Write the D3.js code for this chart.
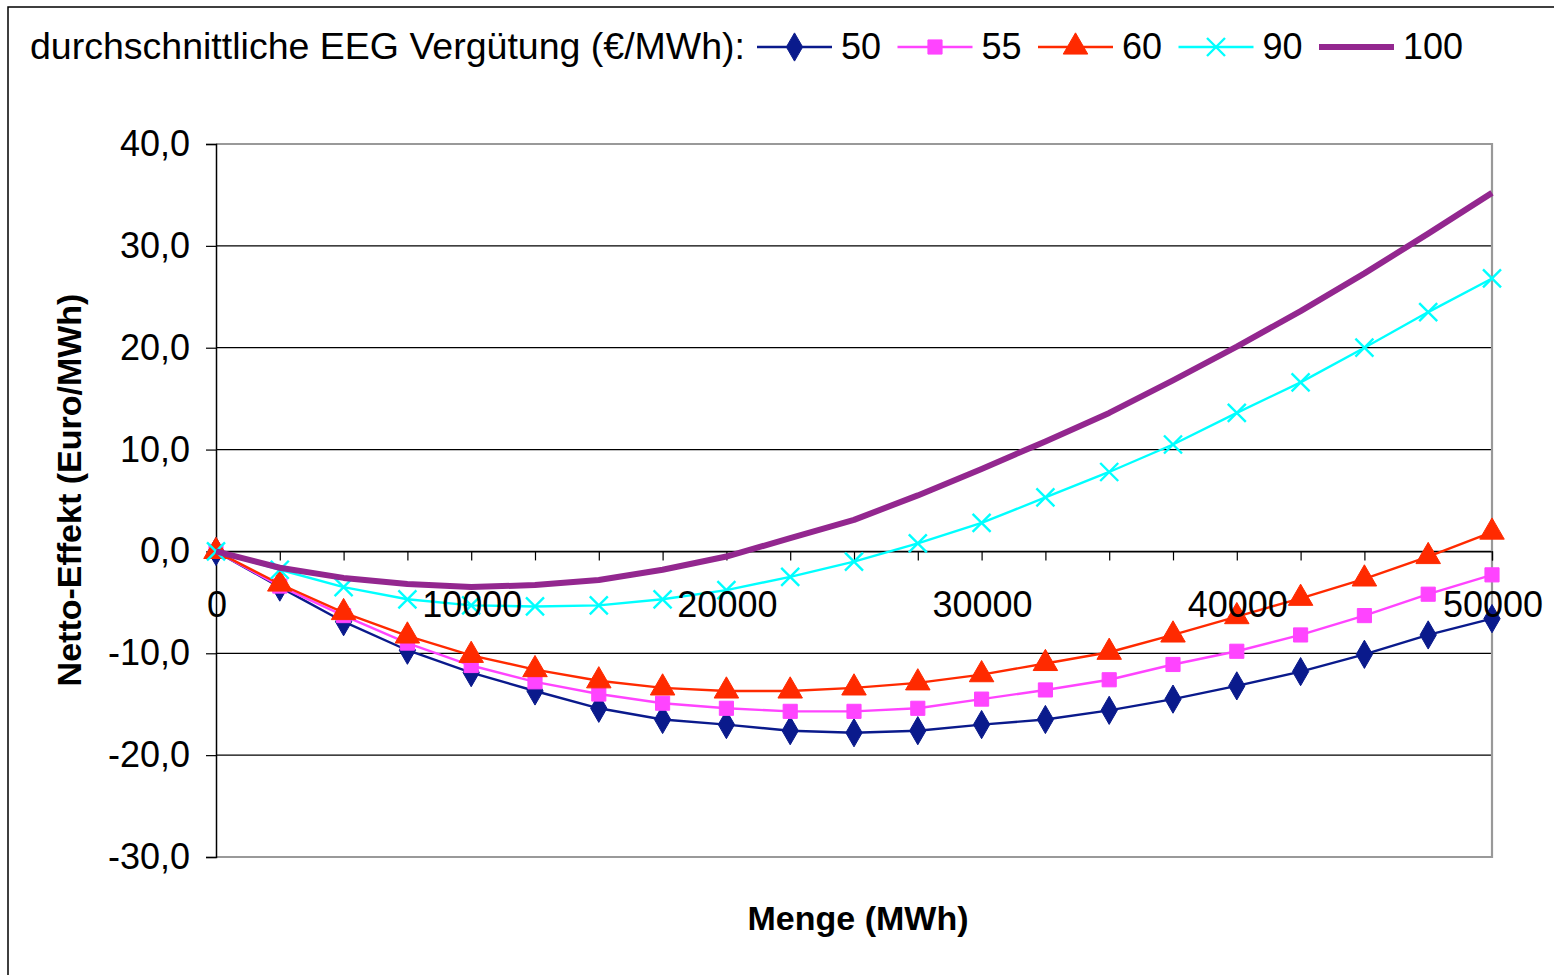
<!DOCTYPE html>
<html><head><meta charset="utf-8">
<script src="https://cdn.jsdelivr.net/npm/d3@7"></script>
<style>
html,body{margin:0;padding:0;background:#fff;}
text{font-family:"Liberation Sans",Arial,sans-serif;}
</style></head>
<body><svg id="c" width="1554" height="975"></svg>
<script>
const mengen = [0,2500,5000,7500,10000,12500,15000,17500,20000,22500,25000,27500,30000,32500,35000,37500,40000,42500,45000,47500,50000];
const s50  = [0,-3.5,-6.9,-9.7,-11.9,-13.7,-15.4,-16.5,-17.0,-17.6,-17.8,-17.6,-17.0,-16.5,-15.6,-14.5,-13.2,-11.8,-10.1,-8.2,-6.6];
const s55  = [0,-3.4,-6.3,-9.0,-11.2,-12.8,-14.0,-14.9,-15.4,-15.7,-15.7,-15.4,-14.5,-13.6,-12.6,-11.1,-9.8,-8.2,-6.3,-4.2,-2.3];
const s60  = [0,-3.2,-6.0,-8.3,-10.2,-11.6,-12.7,-13.4,-13.7,-13.7,-13.4,-12.9,-12.1,-11.0,-9.9,-8.2,-6.4,-4.6,-2.7,-0.5,1.9];
const s90  = [0,-1.8,-3.5,-4.7,-5.3,-5.4,-5.3,-4.7,-3.8,-2.5,-1.0,0.8,2.8,5.3,7.8,10.5,13.6,16.6,20.0,23.5,26.8];
const s100 = [0,-1.6,-2.6,-3.2,-3.5,-3.3,-2.8,-1.8,-0.5,1.3,3.1,5.5,8.1,10.8,13.6,16.8,20.1,23.6,27.3,31.2,35.2];
const seriesNames = ["50","55","60","90","100"];
const yTicks = [-30,-20,-10,0,10,20,30,40];
const xLabelTicks = [0,10000,20000,30000,40000,50000];
const legendTitle = "durchschnittliche EEG Vergütung (€/MWh):";
const xTitle = "Menge (MWh)";
const yTitle = "Netto-Effekt (Euro/MWh)";

const series = [
  {name:seriesNames[0], values:s50,  color:"#0A1A8C", marker:"diamond", width:2.4},
  {name:seriesNames[1], values:s55,  color:"#FF44FF", marker:"square",  width:2.4},
  {name:seriesNames[2], values:s60,  color:"#FF2A00", marker:"triangle",width:2.4},
  {name:seriesNames[3], values:s90,  color:"#00FFFF", marker:"x",       width:2.4},
  {name:seriesNames[4], values:s100, color:"#93278F", marker:null,      width:6}
];

const svg = d3.select("#c");
const L=216, R=1492, T=144, B=857;
const x = d3.scaleLinear().domain([0,50000]).range([L,R]);
const y = d3.scaleLinear().domain([-30,40]).range([B,T]);
const FS = 36;

// outer frame
svg.append("rect").attr("x",8).attr("y",7).attr("width",1600).attr("height",1100)
  .attr("fill","none").attr("stroke","#000").attr("stroke-width",1.5);

// gridlines
svg.append("g").selectAll("line").data(yTicks.filter(d=>d>-30 && d<40)).join("line")
  .attr("x1",L).attr("x2",R).attr("y1",d=>y(d)).attr("y2",d=>y(d))
  .attr("stroke","#000").attr("stroke-width",1.2);
// plot border (top, right, bottom)
svg.append("path").attr("d",`M${L},${T}H${R}V${B}H${L}`).attr("fill","none")
  .attr("stroke","#999").attr("stroke-width",2.2);

// y axis
const yAxis = svg.append("g").attr("transform",`translate(${L},0)`)
  .call(d3.axisLeft(y).tickValues(yTicks).tickSize(10).tickPadding(16)
    .tickFormat(d=>d3.format(".1f")(d).replace(".",",").replace("\u2212","-")));
yAxis.select(".domain").attr("stroke","#000").attr("stroke-width",1.5);
yAxis.selectAll(".tick line").attr("stroke","#000").attr("stroke-width",1.2);
yAxis.selectAll("text").attr("font-size",FS).attr("fill","#000").attr("font-family","Liberation Sans, Arial");

// x axis at y=0
const xAxis = svg.append("g").attr("transform",`translate(0,${y(0)})`)
  .call(d3.axisBottom(x).tickValues(mengen).tickSize(9).tickFormat(""));
xAxis.select(".domain").attr("stroke","#000").attr("stroke-width",1.2);
xAxis.selectAll(".tick line").attr("stroke","#000").attr("stroke-width",1.2);

// series
const line = d3.line().x((d,i)=>x(mengen[i])).y(d=>y(d));
const sym = {
  diamond: d3.symbol().type(d3.symbolDiamond).size(230),
  square: d3.symbol().type(d3.symbolSquare).size(200),
  triangle: d3.symbol().type(d3.symbolTriangle).size(260)
};
function drawMarker(g, type, color, cx, cy){
  if(!type) return;
  if(type==="x"){
    const s=9;
    g.append("path").attr("d",`M${cx-s},${cy-s}L${cx+s},${cy+s}M${cx-s},${cy+s}L${cx+s},${cy-s}`)
      .attr("stroke",color).attr("stroke-width",2.4).attr("fill","none");
  } else {
    g.append("path").attr("d",sym[type]()).attr("transform",`translate(${cx},${cy})`)
      .attr("fill",color).attr("stroke",color).attr("stroke-width",1);
  }
}
series.forEach(s=>{
  const g = svg.append("g");
  g.append("path").attr("d",line(s.values)).attr("fill","none")
    .attr("stroke",s.color).attr("stroke-width",s.width).attr("stroke-linejoin","round");
  s.values.forEach((v,i)=>drawMarker(g,s.marker,s.color,x(mengen[i]),y(v)));
});

// x tick labels
svg.append("g").selectAll("text").data(xLabelTicks).join("text")
  .attr("x",d=>x(d)+1).attr("y",y(0)+66).attr("text-anchor","middle")
  .attr("font-size",FS).attr("fill","#000").text(d=>d);

// axis titles
svg.append("text").attr("x",858).attr("y",930).attr("text-anchor","middle")
  .attr("font-size",34).attr("font-weight","bold").text(xTitle);
svg.append("text").attr("transform","translate(81,490) rotate(-90)").attr("text-anchor","middle")
  .attr("font-size",34).attr("font-weight","bold").text(yTitle);

// legend
const lg = svg.append("g");
lg.append("text").attr("x",30).attr("y",59).attr("font-size",FS)
  .attr("textLength",715).attr("lengthAdjust","spacingAndGlyphs").text(legendTitle);
series.forEach((s,i)=>{
  const x0 = 757 + i*140.5, cy=47;
  lg.append("line").attr("x1",x0).attr("x2",x0+75).attr("y1",cy).attr("y2",cy)
    .attr("stroke",s.color).attr("stroke-width",s.width);
  drawMarker(lg,s.marker,s.color,x0+37.5,cy);
  lg.append("text").attr("x",x0+84).attr("y",59).attr("font-size",FS).text(s.name);
});
</script></body></html>
